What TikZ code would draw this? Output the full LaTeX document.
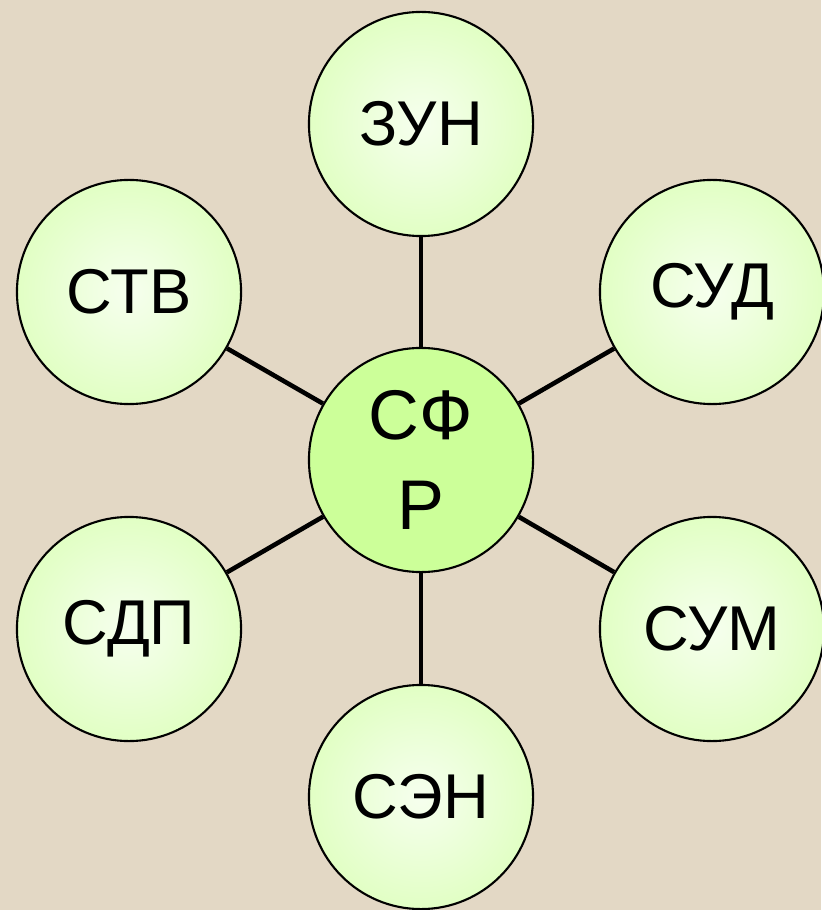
\documentclass[tikz,border=0pt]{standalone}
\usepackage{fontspec}
\setmainfont{Liberation Sans}
\definecolor{bg}{HTML}{E3D8C5}
\definecolor{ballgreen}{HTML}{CCFF99}
\definecolor{ballcenter}{HTML}{F6FFEE}
\pgfdeclareradialshading{ballshade}{\pgfpoint{0bp}{0bp}}{color(0bp)=(ballcenter); color(8bp)=(ballcenter!85!ballgreen); color(50bp)=(ballgreen); color(100bp)=(ballgreen)}
\tikzset{
  ball/.style={circle, draw=black, line width=0.6pt, minimum size=2.24cm, inner sep=0pt, shading=ballshade, font=\fontsize{18}{22}\selectfont, align=center},
  hub/.style={circle, draw=black, line width=0.6pt, minimum size=2.24cm, inner sep=0pt, fill=ballgreen, font=\fontsize{20}{25.5}\selectfont, align=center},
  spoke/.style={line width=1.3pt, draw=black}
}
\begin{document}
\begin{tikzpicture}[x=0.01cm,y=-0.01cm]
\fill[bg] (0,0) rectangle (821,910);
\useasboundingbox (0,0) rectangle (821,910);
\node[hub] (c) at (421,460) {СФ\\Р};
\node[ball] (zun) at (421,124) {ЗУН};
\node[ball] (stv) at (129,292) {СТВ};
\node[ball] (sud) at (712,292) {СУД};
\node[ball] (sdp) at (129,629) {СДП};
\node[ball] (sum) at (712,629) {СУМ};
\node[ball] (sen) at (421,797) {СЭН};
\foreach \n in {zun,stv,sud,sdp,sum,sen} \draw[spoke] (c) -- (\n);
\end{tikzpicture}
\end{document}
